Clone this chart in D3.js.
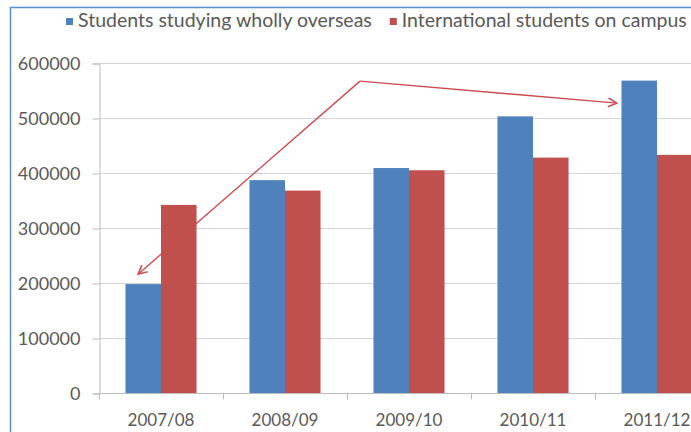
<!DOCTYPE html>
<html>
<head>
<meta charset="utf-8">
<script src="https://cdn.jsdelivr.net/npm/d3@7"></script>
<style>
  html, body { margin: 0; padding: 0; background: #fff; }
  svg { display: block; }
  text { font-family: Lato, "Open Sans", sans-serif; fill: #595959; }
</style>
</head>
<body>
<svg id="chart" width="691" height="432"></svg>
<script>
// Academic years on the category axis
const years = ["2007/08", "2008/09", "2009/10", "2010/11", "2011/12"];
// Series names
const seriesNames = ["Students studying wholly overseas", "International students on campus"];
// Students studying wholly overseas, per year
const overseas = [198000, 387000, 409000, 503000, 568000];
// International students on campus, per year
const onCampus = [342000, 368000, 405000, 428000, 433000];
// Value-axis ticks
const yTicks = [0, 100000, 200000, 300000, 400000, 500000, 600000];
// Trend annotation: [category position, value] — down-left leg and right leg from a shared apex
const arrowApex = [1.605, 567000];
const arrowLeftTip = [-0.185, 216000];
const arrowRightTip = [3.677, 527000];

const colors = ["#4f81bd", "#c0504d"];
const svg = d3.select("#chart");

const plot = { left: 99, top: 63, bottom: 393, step: 124 };
const x = d3.scaleBand().domain(years)
  .range([plot.left, plot.left + plot.step * years.length])
  .paddingInner(0.427).paddingOuter(0.2135);
const xs = d3.scaleBand().domain([0, 1]).range([0, x.bandwidth()]);
const y = d3.scaleLinear().domain([0, 600000]).range([plot.bottom, plot.top]);
// continuous position along the category axis (index 0 = first category center)
const xi = d3.scaleLinear().domain([0, 1])
  .range([x(years[0]) + x.bandwidth() / 2, x(years[1]) + x.bandwidth() / 2]);

// chart-area outline
svg.append("rect").attr("x", 10.5).attr("y", 7.5).attr("width", 700).attr("height", 440)
  .attr("fill", "none").attr("stroke", "#5b8fd0").attr("stroke-width", 1.5);

// horizontal gridlines
svg.append("g").selectAll("line").data(yTicks.filter(d => d > 0)).join("line")
  .attr("x1", plot.left).attr("x2", 720)
  .attr("y1", d => Math.round(y(d)) + 0.5).attr("y2", d => Math.round(y(d)) + 0.5)
  .attr("stroke", "#d4d4d4").attr("stroke-width", 1);

// value axis
const yAxis = svg.append("g").attr("transform", `translate(${plot.left + 0.5},0.5)`)
  .call(d3.axisLeft(y).tickValues(yTicks).tickFormat(d3.format("d")).tickSize(7).tickPadding(12));
yAxis.select(".domain").attr("stroke", "#bcbcbc");
yAxis.selectAll(".tick line").attr("stroke", "#bcbcbc");
yAxis.selectAll("text").style("font-size", "18px").attr("fill", "#595959");

// bars
const groups = svg.append("g").selectAll("g").data(years).join("g")
  .attr("transform", d => `translate(${x(d)},0)`);
groups.selectAll("rect")
  .data((d, i) => [overseas[i], onCampus[i]])
  .join("rect")
  .attr("x", (d, j) => xs(j))
  .attr("width", xs.bandwidth())
  .attr("y", d => y(d))
  .attr("height", d => y(0) - y(d))
  .attr("fill", (d, j) => colors[j]);

// category axis
const xAxis = svg.append("g").attr("transform", `translate(0,${plot.bottom + 0.5})`);
xAxis.append("line").attr("x1", plot.left).attr("x2", 720).attr("stroke", "#bcbcbc");
xAxis.selectAll("line.tk").data(d3.range(years.length + 1)).join("line").attr("class", "tk")
  .attr("x1", i => plot.left + 0.5 + plot.step * i).attr("x2", i => plot.left + 0.5 + plot.step * i)
  .attr("y1", 0).attr("y2", 6).attr("stroke", "#bcbcbc");
xAxis.selectAll("text").data(years).join("text")
  .attr("x", d => x(d) + x.bandwidth() / 2).attr("y", 32)
  .attr("text-anchor", "middle").style("font-size", "17px").text(d => d);

// trend arrows
svg.append("defs").append("marker").attr("id", "arrow")
  .attr("viewBox", "0 0 10 10").attr("refX", 9).attr("refY", 5)
  .attr("markerWidth", 11).attr("markerHeight", 11).attr("markerUnits", "userSpaceOnUse")
  .attr("orient", "auto")
  .append("path").attr("d", "M1,1 L9,5 L1,9").attr("fill", "none")
  .attr("stroke", "#cc4b50").attr("stroke-width", 1.4);
[arrowLeftTip, arrowRightTip].forEach(tip => {
  svg.append("line")
    .attr("x1", xi(arrowApex[0])).attr("y1", y(arrowApex[1]))
    .attr("x2", xi(tip[0])).attr("y2", y(tip[1]))
    .attr("stroke", "#cc4b50").attr("stroke-width", 1.4)
    .attr("marker-end", "url(#arrow)");
});

// legend
const legend = svg.append("g").attr("transform", "translate(66,0)");
let lx = 0;
seriesNames.forEach((name, j) => {
  const g = legend.append("g").attr("transform", `translate(${lx},0)`);
  g.append("rect").attr("x", 0).attr("y", 18).attr("width", 7).attr("height", 7).attr("fill", colors[j]);
  const t = g.append("text").attr("x", 12).attr("y", 27).style("font-size", "19.5px").text(name);
  lx += 12 + t.node().getComputedTextLength() + 18;
});
</script>
</body>
</html>
